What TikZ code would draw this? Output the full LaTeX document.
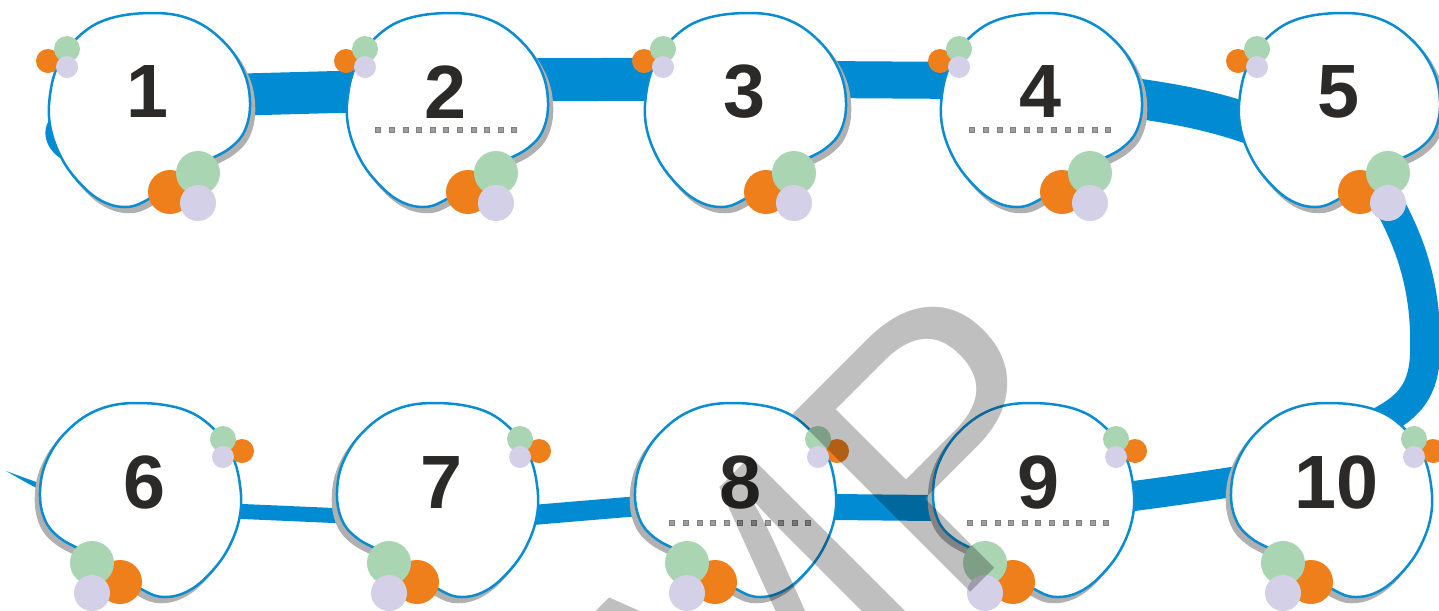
\documentclass[tikz,border=0pt]{standalone}
\usepackage{fontspec}
\setsansfont{Liberation Sans}
\usetikzlibrary{calc}

\definecolor{ribbonblue}{HTML}{008BD2}
\definecolor{blobblue}{HTML}{0A8DD0}
\definecolor{shadowgray}{HTML}{B0B0B0}
\definecolor{dotorange}{HTML}{EF7F1A}
\definecolor{dotgreen}{HTML}{A9D5B3}
\definecolor{dotlilac}{HTML}{D3D0E8}
\definecolor{numgray}{HTML}{2B2A29}

\newcommand{\blobshape}{plot[smooth cycle, tension=0.65] coordinates {(0,-87) (40,-81) (72,-60) (93,-30) (100,2) (95,30) (80,48) (55,62) (25,80) (-3,100) (-25,107) (-50,100) (-73,80) (-90,55) (-100,25) (-100,-5) (-92,-35) (-75,-60) (-45,-80)}}

\begin{document}
\begin{tikzpicture}[x=0.02cm, y=-0.02cm,
        num/.style={font=\sffamily\bfseries\fontsize{43}{43}\selectfont, text=numgray, inner sep=0pt},
        ribbon/.style={draw=ribbonblue, line width=#1*0.2mm},
        dotsq/.style={fill=black!38, draw=black!50, line width=0.2pt},
        watermark/.style={font=\sffamily\fontsize{208}{208}\selectfont, text=black, opacity=0.25, inner sep=0pt},
        pics/blob/.style={code={
            \begin{scope}[shift={(4,5)}]
                \filldraw[shadowgray, line width=0.05cm] \blobshape;
            \end{scope}
            \filldraw[fill=white, draw=blobblue, line width=0.05cm] \blobshape;
            \fill[dotorange] (-102,-39) circle (12);
            \fill[dotgreen]  (-83,-51) circle (13);
            \fill[dotlilac]  (-83,-33) circle (11);
            \fill[dotorange] (20,92) circle (22);
            \fill[dotgreen]  (48,73) circle (22);
            \fill[dotlilac]  (48,103) circle (18);
        }}]

    \useasboundingbox (0,0) rectangle (1439,610);

    \foreach \i/\x in {1/150, 2/448, 3/746, 4/1042, 5/1340}
        \coordinate (b\i) at (\x,100);
    \foreach \i/\x in {6/140, 7/437, 8/735, 9/1033, 10/1331}
        \coordinate (b\i) at (\x,490);

    \fill[ribbonblue] ($(b1)+(-96,15)$) .. controls ($(b1)+(-112,28)$) and ($(b1)+(-104,52)$) .. ($(b1)+(-86,60)$) -- ($(b1)+(-80,20)$) -- cycle;
    \draw[ribbon=42] ($(b1)+(0,-3)$) -- ($(b2)+(0,-11)$);
    \draw[ribbon=43] ($(b2)+(0,-20)$) -- ($(b3)+(0,-21)$);
    \draw[ribbon=37] ($(b3)+(0,-21)$) -- ($(b4)+(0,-19)$);
    \draw[ribbon=40] ($(b4)+(0,-13)$) .. controls ($(b4)+(118,1)$) and ($(b5)+(-110,5)$) .. ($(b5)+(-10,60)$);
    \draw[ribbon=30] ($(b5)+(15,50)$) .. controls ($(b5)+(60,115)$) and ($(b5)+(88,170)$) .. ($(b5)+(85,255)$)
        .. controls ($(b5)+(83,300)$) and ($(b10)+(69,-75)$) .. ($(b10)+(20,-55)$);
    \draw[ribbon=30] ($(b9)+(0,18)$) .. controls ($(b9)+(120,5)$) and ($(b10)+(-80,-10)$) .. ($(b10)+(0,-25)$);
    \draw[ribbon=26] ($(b8)+(0,16)$) -- ($(b9)+(0,19)$);
    \draw[ribbon=20] ($(b7)+(0,33)$) -- ($(b8)+(0,8)$);
    \draw[ribbon=15] ($(b6)+(0,17)$) -- ($(b7)+(0,30)$);
    \fill[ribbonblue] ($(b6)+(-85,-2)$) .. controls ($(b6)+(-105,-8)$) and ($(b6)+(-120,-14)$) .. ($(b6)+(-134,-19)$)
        .. controls ($(b6)+(-118,-10)$) and ($(b6)+(-102,0)$) .. ($(b6)+(-85,6)$) -- cycle;

    \foreach \i in {1,...,5}
        \pic at (b\i) {blob};
    \foreach \i in {6,...,10}
        \pic[xscale=-1] at (b\i) {blob};

    \foreach \i in {1,...,5}
        \node[num] (n\i) at ($(b\i)+(-2,-8)$) {\i};
    \foreach \i in {6,...,10}
        \node[num] (n\i) at ($(b\i)+(5,-8)$) {\i};

    \foreach \n/\dy in {n2/35.5, n4/35.5, n8/38.5, n9/38.5}
        \foreach \k in {0,...,10}
            \fill[dotsq] ($(\n)+(-70.5+13.6*\k,\dy)$) rectangle +(5,5);

    \begin{scope}
        \clip (0,0) rectangle (1439,610);
        \node[watermark, anchor=base east, rotate=45] (mark) at (1122,441) {MP};
    \end{scope}
\end{tikzpicture}
\end{document}
